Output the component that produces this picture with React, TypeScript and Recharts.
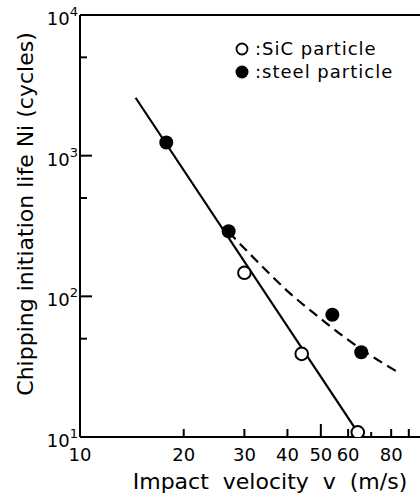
import { ComposedChart, Line, Scatter, XAxis, YAxis, ReferenceLine, Legend, Label } from 'recharts';

// values (log-log)
const sicParticle = [
  { x: 30, y: 147 },
  { x: 44, y: 39 },
  { x: 64, y: 10.8 },
];

const steelParticle = [
  { x: 17.8, y: 1240 },
  { x: 27, y: 290 },
  { x: 54, y: 74 },
  { x: 65.5, y: 40 },
];

const solidFit = [
  { x: 14.5, y: 2580 },
  { x: 64, y: 10.8 },
];

const dashedFit = [
  { x: 27, y: 286 },
  { x: 33, y: 173 },
  { x: 40, y: 109 },
  { x: 49, y: 72 },
  { x: 60, y: 49 },
  { x: 73, y: 35.4 },
  { x: 83.5, y: 29 },
];

const xTicks = [10, 20, 30, 40, 50, 60, 70, 80, 90];
const xLabels = [10, 20, 30, 40, 50, 60, 80];
const yTicks = [10, 50, 100, 500, 1000, 5000, 10000];

const font = '"DejaVu Sans", sans-serif';

const YTick = (props: any) => {
  const { x, y, payload } = props;
  const lg = Math.log10(payload.value);
  const exp = Math.round(lg);
  const major = Math.abs(lg - exp) < 1e-6;
  return (
    <g>
      <line x1={x} x2={x + (major ? 12 : 7)} y1={y} y2={y} stroke="#000" strokeWidth={2} />
      {major && (
        <text x={x - 2} y={y + 10} textAnchor="end" fontSize={18} fontFamily={font} fill="#000">
          10<tspan dy={-9} fontSize={13}>{exp}</tspan>
        </text>
      )}
    </g>
  );
};

const XTick = (props: any) => {
  const { x, y, payload } = props;
  const v = payload.value;
  const len = v === 50 ? 13 : v === 70 ? 5 : 8;
  return (
    <g>
      <line x1={x} x2={x} y1={y} y2={y - len} stroke="#000" strokeWidth={2} />
      {xLabels.includes(v) && (
        <text x={x} y={y + 24} textAnchor="middle" fontSize={18} fontFamily={font} fill="#000">
          {v}
        </text>
      )}
    </g>
  );
};

const openDot = (p: any) => <circle cx={p.cx} cy={p.cy} r={6.3} fill="#fff" stroke="#000" strokeWidth={2} />;
const filledDot = (p: any) => <circle cx={p.cx} cy={p.cy} r={7} fill="#000" />;

const renderLegend = () => (
  <div style={{ fontFamily: font, fontSize: 18, lineHeight: '23px', color: '#000' }}>
    <div style={{ display: 'flex', alignItems: 'center' }}>
      <svg width={14} height={14}>
        <circle cx={7} cy={7} r={5.5} fill="#fff" stroke="#000" strokeWidth={1.8} />
      </svg>
      <span style={{ marginLeft: 6, letterSpacing: 1 }}>:SiC particle</span>
    </div>
    <div style={{ display: 'flex', alignItems: 'center' }}>
      <svg width={14} height={14}>
        <circle cx={7} cy={7} r={6.5} fill="#000" />
      </svg>
      <span style={{ marginLeft: 6, letterSpacing: 1 }}>:steel particle</span>
    </div>
  </div>
);

export default function App() {
  return (
    <div style={{ position: 'absolute', left: 0, top: 0, width: 420, height: 498, background: '#fff', fontFamily: font }}>
      <ComposedChart width={420} height={498} margin={{ top: 15, right: 0, bottom: 0, left: 0 }}>
        <XAxis
          dataKey="x"
          type="number"
          scale="log"
          domain={[10, 97]}
          ticks={xTicks}
          allowDataOverflow
          height={61}
          tickSize={0}
          tickMargin={0}
          tickLine={false}
          axisLine={{ stroke: '#000', strokeWidth: 2 }}
          tick={<XTick />}
          interval={0}
        >
          <Label
            content={() => (
              <text x={270} y={489} textAnchor="middle" fontSize={22} fontFamily={font} fill="#000" style={{ wordSpacing: 7 }}>
                Impact velocity v (m/s)
              </text>
            )}
          />
        </XAxis>
        <YAxis
          dataKey="y"
          type="number"
          scale="log"
          domain={[10, 10000]}
          ticks={yTicks}
          allowDataOverflow
          width={80}
          tickSize={0}
          tickMargin={0}
          tickLine={false}
          axisLine={{ stroke: '#000', strokeWidth: 2 }}
          tick={<YTick />}
          interval={0}
        >
          <Label
            content={() => (
              <text x={33} y={214} transform="rotate(-90, 33, 214)" textAnchor="middle" fontSize={22} fontFamily={font} fill="#000">
                Chipping initiation life Ni (cycles)
              </text>
            )}
          />
        </YAxis>
        <ReferenceLine y={10000} stroke="#000" strokeWidth={2} />
        <Line data={solidFit} dataKey="y" type="linear" stroke="#000" strokeWidth={2.2} dot={false} isAnimationActive={false} />
        <Line
          data={dashedFit}
          dataKey="y"
          type="monotone"
          stroke="#000"
          strokeWidth={2.2}
          strokeDasharray="10 6"
          dot={false}
          isAnimationActive={false}
        />
        <Scatter data={sicParticle} dataKey="y" shape={openDot} isAnimationActive={false} />
        <Scatter data={steelParticle} dataKey="y" shape={filledDot} isAnimationActive={false} />
        <Legend
          content={renderLegend}
          layout="horizontal"
          verticalAlign="middle"
          align="center"
          wrapperStyle={{ position: 'absolute', left: 235, top: 37, width: 'auto' }}
        />
      </ComposedChart>
    </div>
  );
}
